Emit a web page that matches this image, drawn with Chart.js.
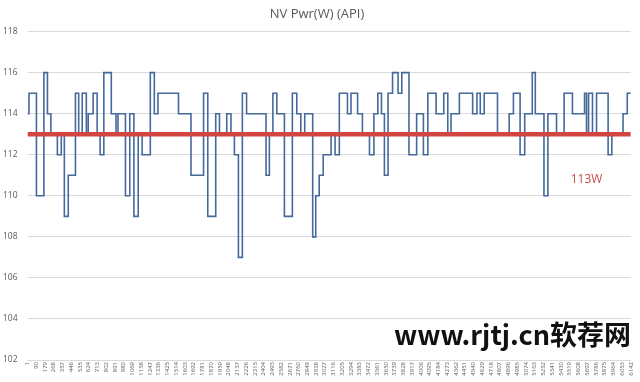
<!DOCTYPE html>
<html>
<head>
<meta charset="utf-8">
<script src="https://cdn.jsdelivr.net/npm/chart.js@4.4.1/dist/chart.umd.min.js"></script>
<style>
  html, body { margin: 0; padding: 0; background: #ffffff; }
  #wrap { width: 640px; height: 382px; }
</style>
</head>
<body>
<div id="wrap"><canvas id="c" width="640" height="382"></canvas></div>
<script>
// ---- data ----
const chartTitle = 'NV Pwr(W) (API)';
const tickLabels = [1, 90, 179, 268, 357, 446, 535, 624, 713, 802, 891, 980, 1069, 1158, 1247, 1336, 1425, 1514, 1603, 1692, 1781, 1870, 1959, 2048, 2137, 2226, 2315, 2404, 2493, 2582, 2671, 2760, 2849, 2938, 3027, 3116, 3205, 3294, 3383, 3472, 3561, 3650, 3739, 3828, 3917, 4006, 4095, 4184, 4273, 4362, 4451, 4540, 4629, 4718, 4807, 4896, 4985, 5074, 5163, 5252, 5341, 5430, 5519, 5608, 5697, 5786, 5875, 5964, 6053, 6142];
const yTicks = [102, 104, 106, 108, 110, 112, 114, 116, 118];
// sample index at which each power level starts
const stepStart = [1, 16, 92, 168, 204, 239, 305, 345, 376, 416, 489, 522, 558, 600, 619, 669, 710, 740, 778, 854, 902, 922, 998, 1042, 1084, 1128, 1168, 1251, 1292, 1329, 1538, 1665, 1793, 1836, 1917, 1955, 2029, 2072, 2107, 2148, 2188, 2231, 2429, 2463, 2499, 2539, 2616, 2697, 2742, 2783, 2823, 2904, 2935, 2970, 3011, 3091, 3132, 3175, 3258, 3294, 3361, 3410, 3482, 3527, 3567, 3604, 3634, 3671, 3717, 3773, 3811, 3884, 3962, 4031, 4076, 4160, 4238, 4279, 4312, 4397, 4532, 4576, 4610, 4650, 4785, 4904, 4947, 5015, 5062, 5139, 5170, 5258, 5298, 5386, 5463, 5548, 5671, 5691, 5712, 5752, 5793, 5911, 5949, 6063, 6106];
// power (W) held from that sample on
const powerW = [114, 115, 110, 116, 114, 113, 112, 113, 109, 111, 115, 113, 115, 113, 114, 115, 113, 112, 116, 114, 113, 114, 110, 114, 109, 113, 112, 116, 114, 115, 114, 111, 115, 109, 114, 113, 114, 113, 112, 107, 115, 114, 111, 113, 115, 114, 109, 115, 114, 113, 114, 108, 110, 111, 112, 113, 112, 115, 114, 115, 114, 113, 112, 114, 115, 114, 111, 115, 116, 115, 116, 112, 114, 112, 115, 114, 115, 113, 114, 115, 114, 115, 114, 115, 113, 114, 115, 112, 114, 116, 114, 110, 114, 113, 115, 114, 115, 113, 115, 113, 115, 112, 113, 114, 115];
const firstSample = 1;
const lastSample = 6142;
const thresholdW = 113;
const thresholdText = '113W';
const watermarkText = 'www.rjtj.cn软荐网';

// ---- build datasets from the arrays ----
// each level is held from its start sample until the next start
const powerPoints = stepStart.map((s, i) => ({ x: s, y: powerW[i] }));
powerPoints.push({ x: lastSample, y: powerW[powerW.length - 1] });
const thresholdPoints = [{ x: firstSample, y: thresholdW }, { x: lastSample, y: thresholdW }];

const overlayPlugin = {
  id: 'overlay',
  afterDatasetsDraw(chart) {
    const { ctx, scales } = chart;
    ctx.save();
    ctx.font = '12px "Open Sans", sans-serif';
    ctx.fillStyle = '#c4504b';
    ctx.textAlign = 'center';
    ctx.textBaseline = 'middle';
    const lx = scales.x.getPixelForValue(5691);
    const ly = scales.y.getPixelForValue(110.8);
    ctx.fillText(thresholdText, lx, ly);
    ctx.restore();
  },
  afterDraw(chart) {
    const { ctx } = chart;
    ctx.save();
    ctx.font = 'bold 27px "Noto Sans CJK SC", sans-serif';
    ctx.fillStyle = '#111111';
    ctx.textAlign = 'right';
    ctx.textBaseline = 'alphabetic';
    ctx.fillText(watermarkText, 631, 345);
    ctx.restore();
  }
};

new Chart(document.getElementById('c'), {
  type: 'line',
  data: {
    datasets: [
      {
        label: 'threshold',
        data: thresholdPoints,
        borderColor: '#d2443f',
        borderWidth: 4.5,
        pointRadius: 0,
        fill: false
      },
      {
        label: 'NV Pwr(W)',
        data: powerPoints,
        stepped: 'before',
        borderColor: '#44699a',
        borderWidth: 1.6,
        pointRadius: 0,
        fill: false
      }
    ]
  },
  options: {
    responsive: false,
    animation: false,
    events: [],
    layout: { padding: { left: 0, right: 6, top: 0, bottom: 0 } },
    plugins: {
      legend: { display: false },
      tooltip: { enabled: false },
      title: {
        display: true,
        text: chartTitle,
        color: '#595959',
        font: { family: '"Open Sans", sans-serif', size: 13, weight: 'normal' },
        padding: { top: 6, bottom: 10 }
      }
    },
    scales: {
      x: {
        type: 'linear',
        min: firstSample,
        max: lastSample,
        afterBuildTicks(scale) { scale.ticks = tickLabels.map(v => ({ value: v })); },
        afterFit(scale) { scale.height = 22; },
        grid: { display: false, drawTicks: false },
        border: { display: true, color: '#d9d9d9', width: 1 },
        ticks: {
          autoSkip: false,
          maxRotation: 90,
          minRotation: 90,
          padding: 2,
          color: '#595959',
          font: { family: '"Open Sans", sans-serif', size: 6 },
          callback: (v) => String(v)
        }
      },
      y: {
        min: 102,
        max: 118,
        afterBuildTicks(scale) { scale.ticks = yTicks.map(v => ({ value: v })); },
        afterFit(scale) { scale.width = 27.5; },
        grid: { color: '#d9d9d9', lineWidth: 1, drawTicks: false },
        border: { display: false },
        ticks: {
          padding: 10,
          color: '#595959',
          font: { family: '"Open Sans", sans-serif', size: 8.5 }
        }
      }
    }
  },
  plugins: [overlayPlugin]
});
</script>
</body>
</html>
